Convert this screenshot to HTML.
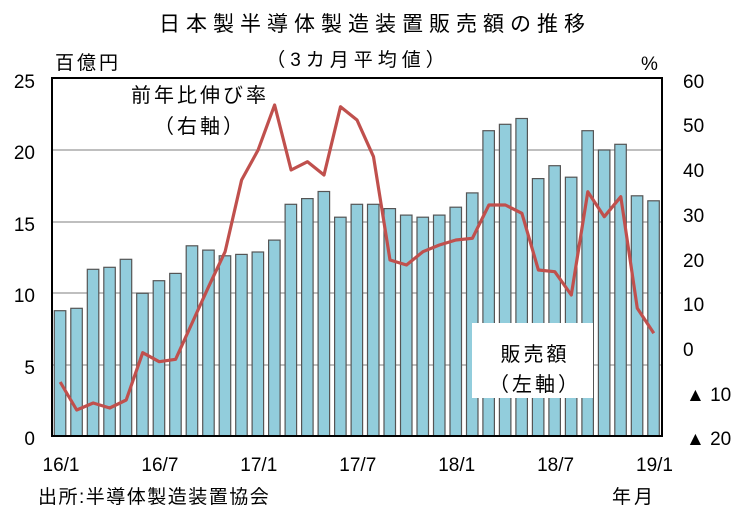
<!DOCTYPE html>
<html><head><meta charset="utf-8"><style>
body{margin:0;background:#fff}
svg{display:block;font-family:"Liberation Sans","Noto Sans CJK JP",sans-serif}
</style></head><body>
<svg width="750" height="518" viewBox="0 0 750 518">
<text x="375" y="31" font-size="21" letter-spacing="6" text-anchor="middle">日本製半導体製造装置販売額の推移</text>
<text x="358" y="66" font-size="19" letter-spacing="5" text-anchor="middle">（3カ月平均値）</text>
<text x="55" y="69" font-size="19" letter-spacing="3">百億円</text>
<text x="641" y="70" font-size="19">%</text>
<g stroke="#999" stroke-width="1.2">
<line x1="52" x2="662" y1="150" y2="150"/><line x1="52" x2="662" y1="222" y2="222"/>
<line x1="52" x2="662" y1="293" y2="293"/><line x1="52" x2="662" y1="365" y2="365"/>
</g>
<g id="bars" fill="#92cddc" stroke="#555" stroke-width="1.2"></g>
<polyline id="ln" fill="none" stroke="#c0504d" stroke-width="3.2" stroke-linejoin="round"/>
<rect x="472" y="323" width="121" height="75" fill="#fff"/>
<text x="535" y="361" font-size="20" letter-spacing="3" text-anchor="middle">販売額</text>
<text x="535" y="391" font-size="20" letter-spacing="3" text-anchor="middle">（左軸）</text>
<text x="200" y="102" font-size="20" letter-spacing="3" text-anchor="middle">前年比伸び率</text>
<text x="200" y="133" font-size="20" letter-spacing="3" text-anchor="middle">（右軸）</text>
<rect x="52" y="78" width="610" height="358" fill="none" stroke="#000" stroke-width="2"/>
<g font-size="19" text-anchor="end">
<text x="35" y="88">25</text><text x="35" y="159">20</text><text x="35" y="231">15</text>
<text x="35" y="302">10</text><text x="35" y="374">5</text><text x="35" y="445">0</text>
</g>
<g font-size="19">
<text x="683" y="88">60</text><text x="683" y="132">50</text><text x="683" y="177">40</text>
<text x="683" y="222">30</text><text x="683" y="267">20</text><text x="683" y="311">10</text>
<text x="683" y="356">0</text><text x="686" y="401">▲ 10</text><text x="686" y="445">▲ 20</text>
</g>
<g font-size="19" text-anchor="middle" id="xl"></g>
<text x="38" y="503" font-size="19" letter-spacing="1.5">出所:半導体製造装置協会</text>
<text x="612" y="503" font-size="19" letter-spacing="3">年月</text>
</svg>
<script>
var v=[8.76,8.93,11.66,11.8,12.36,9.98,10.86,11.37,13.3,13.0,12.6,12.7,12.87,13.7,16.2,16.6,17.1,15.3,16.2,16.2,15.9,15.45,15.3,15.45,16.0,17.0,21.35,21.8,22.2,18.0,18.9,18.1,21.35,20.0,20.4,16.8,16.45];
var ly=[382,410,403,408,400,352.7,361.7,359.3,323,286.7,251.7,180,150,105,170,161.7,175,106.7,120,156.7,260,265,251.7,245,240,238.3,205,205,213.3,270,271.7,295,191.7,216.7,196.7,308.3,333.3];
var s=610/37,g=document.getElementById('bars'),h='',p=[];
for(var i=0;i<37;i++){var x=52+i*s+2.3,t=436-v[i]*14.3;h+='<rect x="'+x.toFixed(1)+'" y="'+t.toFixed(1)+'" width="11.5" height="'+(436-t).toFixed(1)+'"/>';p.push((52+i*s+s/2).toFixed(1)+','+ly[i]);}
g.innerHTML=h;document.getElementById('ln').setAttribute('points',p.join(' '));
var L=['16/1','16/7','17/1','17/7','18/1','18/7','19/1'],xh='';
for(var k=0;k<7;k++){xh+='<text x="'+(61+k*6*s).toFixed(1)+'" y="471">'+L[k]+'</text>';}
document.getElementById('xl').innerHTML=xh;
</script>
</body></html>
